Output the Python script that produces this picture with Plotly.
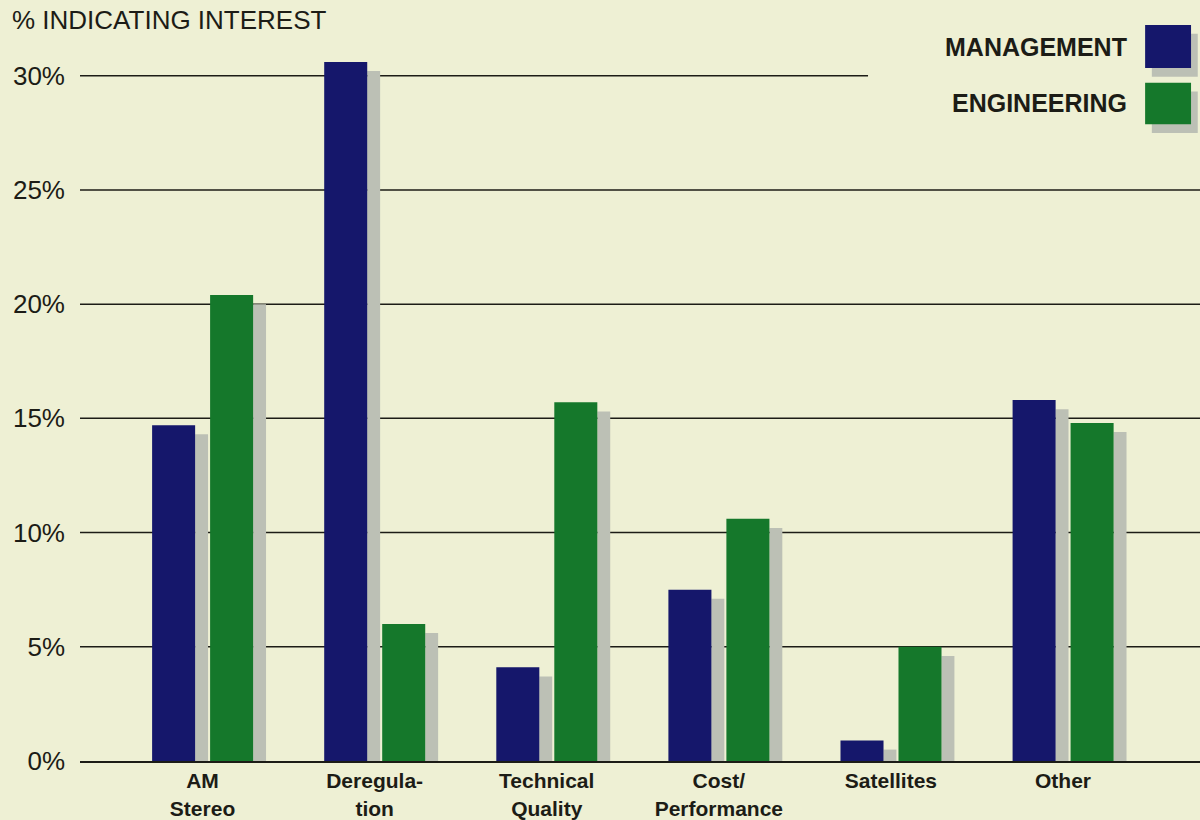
import plotly.graph_objects as go

# survey results
categories = ['AM<br>Stereo', 'Deregula-<br>tion', 'Technical<br>Quality',
              'Cost/<br>Performance', 'Satellites', 'Other']
management = [14.7, 30.6, 4.1, 7.5, 0.9, 15.8]
engineering = [20.4, 6.0, 15.7, 10.6, 5.0, 14.8]
y_ticks = [0, 5, 10, 15, 20, 25, 30]
series_names = ['MANAGEMENT', 'ENGINEERING']

BG = '#eef0d4'
NAVY = '#15176b'
GREEN = '#15782b'
SHADOW = '#bcc0b5'
INK = '#1c1c16'
FONT = 'Liberation Sans'

bar_w = 0.25
shadow_w = 0.075
shadow_drop = 0.4  # shadow starts a little below the bar top

fig = go.Figure()

for vals, color, off in [(management, NAVY, -0.293), (engineering, GREEN, 0.044)]:
    # drop shadow to the right of each bar
    fig.add_trace(go.Bar(
        x=categories, y=[v - shadow_drop for v in vals],
        offset=off + bar_w, width=shadow_w,
        marker=dict(color=SHADOW, line=dict(width=0)),
        hoverinfo='skip', showlegend=False))
    fig.add_trace(go.Bar(
        x=categories, y=vals,
        offset=off, width=bar_w,
        marker=dict(color=color, line=dict(width=0)),
        showlegend=False))

fig.update_layout(
    width=1200, height=820,
    barmode='overlay',
    paper_bgcolor=BG, plot_bgcolor=BG,
    margin=dict(l=80, r=0, t=30, b=55),
    font=dict(family=FONT, color=INK),
)

fig.update_xaxes(
    range=[-0.712, 5.796],
    showline=True, linecolor=INK, linewidth=2,
    showgrid=False, ticks='',
    tickfont=dict(size=21, weight='bold', color=INK),
)

fig.update_yaxes(
    range=[0, 32],
    tickvals=y_ticks, ticktext=[f'{v}%' for v in y_ticks],
    showgrid=False, zeroline=False, showline=False, ticks='',
    ticklabelstandoff=14,
    tickfont=dict(size=26, color=INK),
)

# gridlines; the top one stops short of the legend
for v in y_ticks[1:]:
    fig.add_shape(type='line', xref='paper', yref='y', layer='below',
                  x0=0, x1=0.7036 if v == y_ticks[-1] else 1.0, y0=v, y1=v,
                  line=dict(color=INK, width=1.5))

# legend: text then swatch, with swatch shadow
legend_y = [(1.0068, 0.948), (0.928, 0.871)]
for name, color, (y1, y0) in zip(series_names, [NAVY, GREEN], legend_y):
    fig.add_shape(type='rect', xref='paper', yref='paper',
                  x0=0.951 + 0.006, x1=0.992 + 0.006, y0=y0 - 0.012, y1=y1 - 0.012,
                  fillcolor=SHADOW, line=dict(width=0))
    fig.add_shape(type='rect', xref='paper', yref='paper',
                  x0=0.951, x1=0.992, y0=y0, y1=y1,
                  fillcolor=color, line=dict(width=0))
    fig.add_annotation(text=name, xref='paper', yref='paper',
                       x=0.937, y=(y0 + y1) / 2, xanchor='right', yanchor='middle',
                       showarrow=False,
                       font=dict(size=25, weight='bold', color=INK))

fig.add_annotation(text='% INDICATING INTEREST', xref='paper', yref='paper',
                   x=-0.0625, y=1.0136, xanchor='left', yanchor='middle',
                   showarrow=False, font=dict(size=26, color=INK))

fig.write_html('out.html', config={'displayModeBar': False},
               post_script="document.body.style.margin='0';")
